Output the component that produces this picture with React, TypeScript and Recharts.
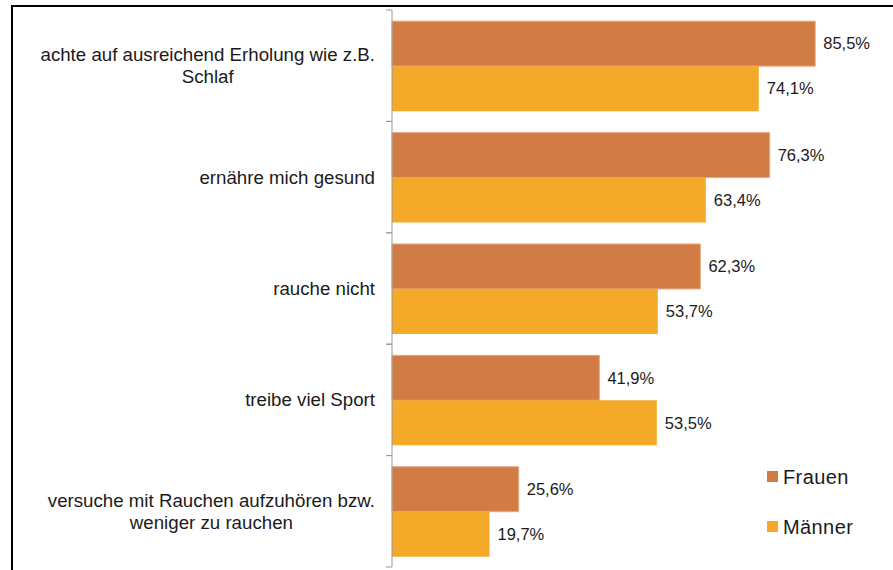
import React from 'react'
import {Bar, BarChart, LabelList, XAxis, YAxis} from 'recharts'

// categories (line breaks as in the original labels)
const categories = [
  'achte auf ausreichend Erholung wie z.B.\nSchlaf',
  'ernähre mich gesund',
  'rauche nicht',
  'treibe viel Sport',
  'versuche mit Rauchen aufzuhören bzw.\nweniger zu rauchen',
]
const frauen = [85.5, 76.3, 62.3, 41.9, 25.6]
const maenner = [74.1, 63.4, 53.7, 53.5, 19.7]
const seriesNames = ['Frauen', 'Männer']
const seriesColors = ['#D27C45', '#F5A928']

const data = categories.map((c, i) => ({cat: c, frauen: frauen[i], maenner: maenner[i]}))

const W = 893
const H = 570
const PLOT_LEFT = 392
const PLOT_TOP = 10
const PLOT_BOTTOM = 567
const PLOT_RIGHT = 887
const FONT = '"Liberation Sans", Arial, sans-serif'
const CAT_SIZE = 18.7

let ctx: CanvasRenderingContext2D | null = null
const measure = (s: string) => {
  if (!ctx) ctx = document.createElement('canvas').getContext('2d')
  if (!ctx) return s.length * CAT_SIZE * 0.5
  ctx.font = `${CAT_SIZE}px "Liberation Sans"`
  return ctx.measureText(s).width
}

const fmt = (v: any) => `${Number(v).toFixed(1).replace('.', ',')}%`

const CategoryTick = (props: any) => {
  const {y, payload} = props
  const lines = String(payload.value).split('\n')
  const band = (PLOT_BOTTOM - PLOT_TOP) / categories.length
  const maxW = Math.max(...lines.map(measure))
  const cx = PLOT_LEFT - 17 - maxW / 2
  const lh = 21.5
  const y0 = y - ((lines.length - 1) * lh) / 2
  return (
    <g>
      <line x1={PLOT_LEFT - 6} x2={PLOT_LEFT} y1={y - band / 2} y2={y - band / 2} stroke="#9a9a9a" />
      <line x1={PLOT_LEFT - 6} x2={PLOT_LEFT} y1={y + band / 2} y2={y + band / 2} stroke="#9a9a9a" />
      <text textAnchor="middle" fontSize={CAT_SIZE} fontFamily={FONT} fill="#1a1a1a">
        {lines.map((l, i) => (
          <tspan key={i} x={cx} y={y0 + i * lh} dy="0.35em">
            {l}
          </tspan>
        ))}
      </text>
    </g>
  )
}

const App = () => {
  return (
    <div style={{position: 'relative', width: W, height: H, overflow: 'hidden', background: '#fff'}}>
      <style>{'body{margin:0;overflow:hidden}'}</style>
      {/* frame of the original figure, cut off at right and bottom */}
      <div
        style={{
          position: 'absolute',
          left: 11,
          top: 5,
          width: W + 20,
          height: H + 20,
          borderLeft: '2px solid #000',
          borderTop: '2px solid #000',
        }}
      />
      <div style={{position: 'absolute', left: 0, top: 0}}>
        <BarChart
          width={W}
          height={H}
          data={data}
          layout="vertical"
          barCategoryGap="10%"
          barGap={0}
          margin={{top: PLOT_TOP, right: W - PLOT_RIGHT, bottom: H - PLOT_BOTTOM, left: 0}}
        >
          <XAxis type="number" domain={[0, 100]} hide />
          <YAxis
            type="category"
            dataKey="cat"
            width={PLOT_LEFT}
            axisLine={{stroke: '#9a9a9a'}}
            tickLine={false}
            tick={<CategoryTick />}
            interval={0}
          />
          <Bar
            dataKey="frauen"
            name={seriesNames[0]}
            fill={seriesColors[0]}
            stroke="#E9A985"
            strokeWidth={1}
            isAnimationActive={false}
          >
            <LabelList
              dataKey="frauen"
              position="right"
              offset={8}
              formatter={fmt}
              style={{fontSize: 16.5, fontFamily: FONT, fill: '#1a1a1a'}}
            />
          </Bar>
          <Bar dataKey="maenner" name={seriesNames[1]} fill={seriesColors[1]} isAnimationActive={false}>
            <LabelList
              dataKey="maenner"
              position="right"
              offset={8}
              formatter={fmt}
              style={{fontSize: 16.5, fontFamily: FONT, fill: '#1a1a1a'}}
            />
          </Bar>
        </BarChart>
      </div>
      {/* legend */}
      {seriesNames.map((n, i) => (
        <div key={n} style={{position: 'absolute', left: 767, top: 467 + i * 50, height: 22}}>
          <div
            style={{
              position: 'absolute',
              left: 0,
              top: 4,
              width: 11,
              height: 11,
              background: seriesColors[i],
            }}
          />
          <div
            style={{
              position: 'absolute',
              left: 16,
              top: 0,
              fontSize: 20,
              lineHeight: '20px',
              fontFamily: FONT,
              color: '#1a1a1a',
              letterSpacing: 0.4,
              whiteSpace: 'nowrap',
            }}
          >
            {n}
          </div>
        </div>
      ))}
    </div>
  )
}

export default App
